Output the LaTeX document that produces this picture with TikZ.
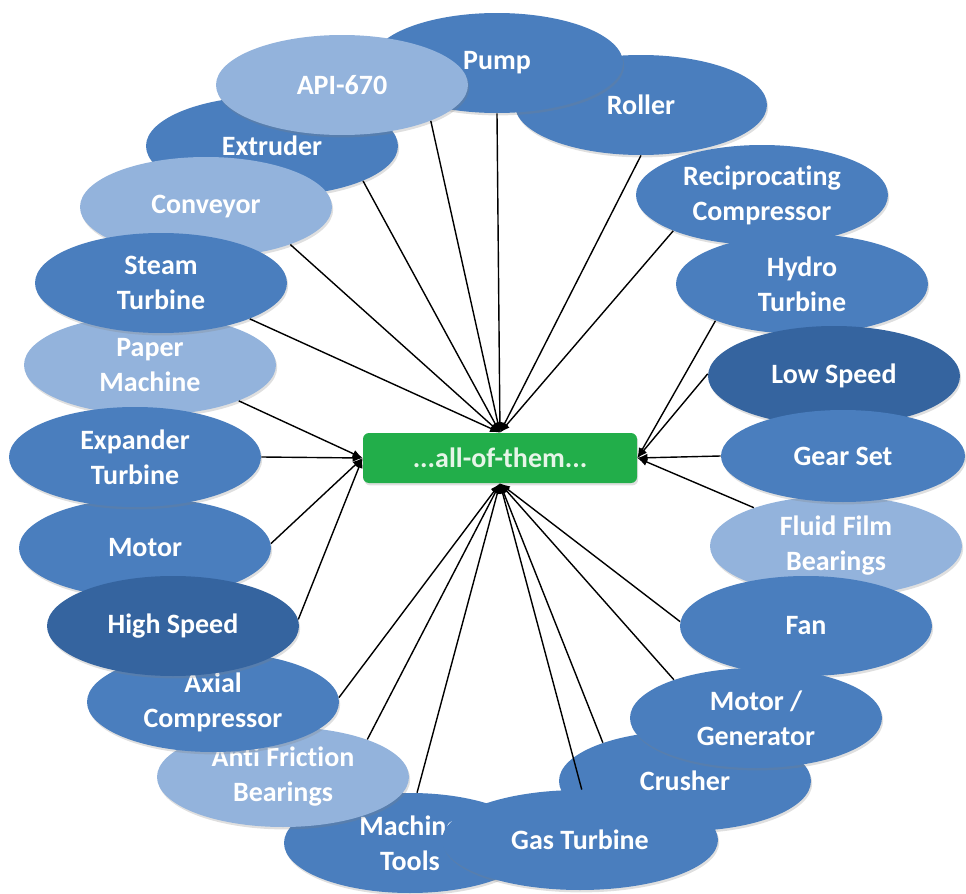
\documentclass[tikz,border=0pt]{standalone}
\usepackage{fontspec}
\setmainfont{Carlito}[Ligatures=NoCommon]
\usetikzlibrary{arrows.meta, shapes.geometric, shadows}
\definecolor{midblue}{HTML}{4A7EBE}
\definecolor{lightblue}{HTML}{93B3DC}
\definecolor{darkblue}{HTML}{35649F}
\definecolor{hubgreen}{HTML}{22AE4A}
\definecolor{hubtext}{HTML}{E6F5E8}
\tikzset{
  oval/.style ={ellipse, fill=midblue, text=white, align=center, inner sep=0pt,
                minimum width=126pt, minimum height=50pt,
                drop shadow={shadow xshift=0.6pt, shadow yshift=-1.2pt, opacity=0.25},
                font=\bfseries\fontsize{14}{17.5}\selectfont},
  pale/.style ={oval, fill=lightblue},
  deep/.style ={oval, fill=darkblue},
  hub/.style  ={rectangle, rounded corners=3pt, fill=hubgreen, text=hubtext,
                minimum width=137pt, minimum height=25pt, inner sep=0pt,
                drop shadow={shadow xshift=0.6pt, shadow yshift=-1.2pt, opacity=0.25},
                font=\bfseries\fontsize{14}{17.5}\selectfont},
  arr/.style  ={-{Latex[length=5pt, width=4pt]}, line width=0.7pt},
}
\begin{document}
\begin{tikzpicture}[x=0.5pt, y=-0.5pt]
  \useasboundingbox (0,0) rectangle (966,894);

  % ring of machine types, back to front
  \node[oval] (roller)   at (641,105) {Roller};
  \node[oval] (pump)     at (497,63)  {Pump};
  \node[oval] (extruder) at (272,146) {Extruder};
  \node[pale] (api)      at (342,85)  {API-670};
  \node[pale] (conveyor) at (206,207) {Conveyor};
  \node[pale] (paper)    at (150,365) {Paper\\Machine};
  \node[oval] (steam)    at (161,283) {Steam\\Turbine};
  \node[oval] (motor)    at (145,548) {Motor};
  \node[oval] (expander) at (135,457) {Expander\\Turbine};
  \node[oval] (tools)    at (410,843) {Machine\\Tools};
  \node[pale] (anti)     at (283,777) {Anti Friction\\Bearings};
  \node[oval] (axial)    at (213,702) {Axial\\Compressor};
  \node[deep] (high)     at (173,626) {High Speed};
  \node[oval] (recip)    at (762,195) {Reciprocating\\Compressor};
  \node[oval] (hydro)    at (802,284) {Hydro\\Turbine};
  \node[deep] (low)      at (834,376) {Low Speed};
  \node[pale] (fluid)    at (836,546) {Fluid Film\\Bearings};
  \node[oval, minimum width=122pt, minimum height=46pt]
              (gear)     at (843,456) {Gear Set};
  \node[oval] (fan)      at (806,626) {Fan};
  \node[oval] (crusher)  at (685,781) {Crusher};
  \node[oval] (motorgen) at (756,718) {Motor /\\Generator};
  \node[oval, minimum width=138pt]
              (gas)      at (580,840) {Gas Turbine};

  \node[hub] (all) at (500,458) {...all-of-them...};

  % connectors into the hub
  \draw[arr] (pump.-90)     -- (all.north);
  \draw[arr] (api.-22)      -- (all.north);
  \draw[arr] (extruder.-21) -- (all.north);
  \draw[arr] (conveyor.-24) -- (all.north);
  \draw[arr] (steam.-22)    -- (all.north);
  \draw[arr] (roller.-90)   -- (all.north);
  \draw[arr] (recip.-158)   -- (all.north);
  \draw[arr] (paper.-22)    -- (all.west);
  \draw[arr] (expander.0)   -- (all.west);
  \draw[arr] (motor.2)      -- (all.west);
  \draw[arr] (high.3)       -- (all.west);
  \draw[arr] (hydro.-157)   -- (all.east);
  \draw[arr] (low.179)      -- (all.east);
  \draw[arr] (gear.180)     -- (all.east);
  \draw[arr] (fluid.155)    -- (all.east);
  \draw[arr] (axial.2)      -- (all.south);
  \draw[arr] (anti.24)      -- (all.south);
  \draw[arr] (tools.82)     -- (all.south);
  \draw[arr] (gas.88)       -- (all.south);
  \draw[arr] (crusher.155)  -- (all.south);
  \draw[arr] (motorgen.155) -- (all.south);
  \draw[arr] (fan.178)      -- (all.south);
\end{tikzpicture}
\end{document}
